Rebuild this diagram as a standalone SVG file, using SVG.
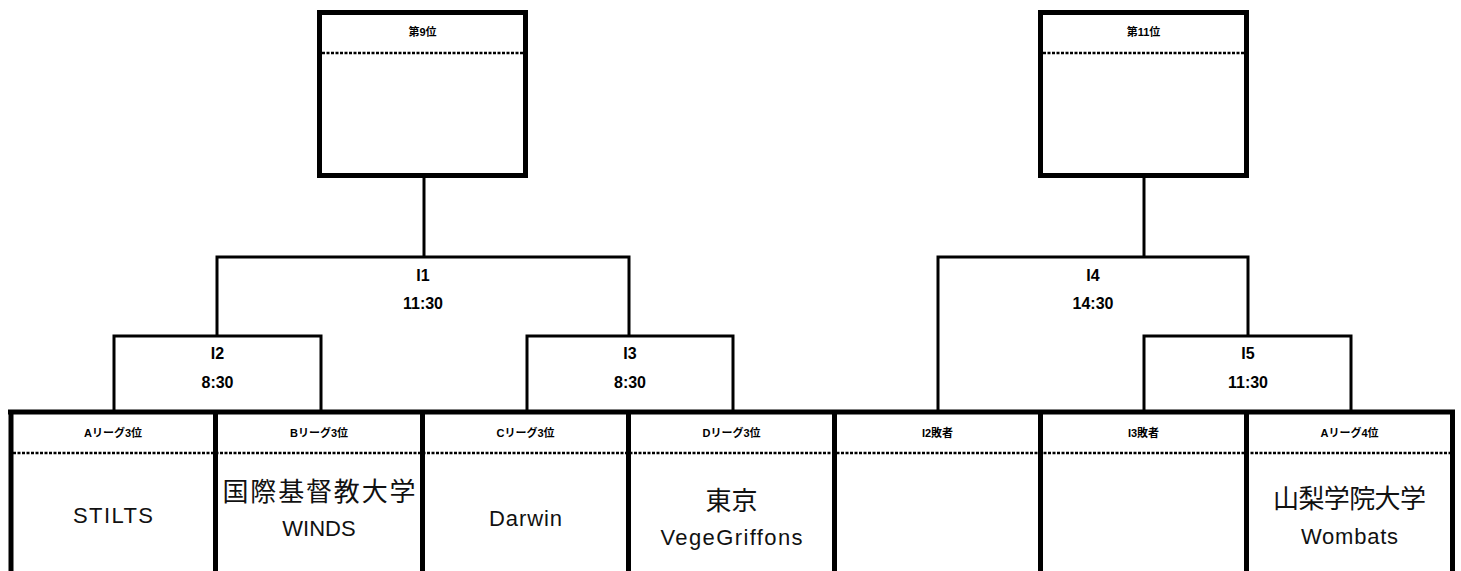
<svg xmlns="http://www.w3.org/2000/svg" width="1461" height="571" viewBox="0 0 1461 571">
<style>
.thick{fill:none;stroke:#000;stroke-width:5}
.conn{fill:none;stroke:#000;stroke-width:3}
.dot{fill:none;stroke:#000;stroke-width:2.5;stroke-dasharray:3 1.5}
.hdr{font-family:"Liberation Sans","Noto Sans CJK JP",sans-serif;font-weight:bold;font-size:11px;text-anchor:middle;fill:#000}
.mt{font-family:"Liberation Sans","Noto Sans CJK JP",sans-serif;font-weight:bold;font-size:16px;text-anchor:middle;fill:#000}
.team{font-family:"Liberation Sans","Noto Sans CJK JP",sans-serif;font-size:22px;text-anchor:middle;fill:#111}
.jp{font-family:"Noto Sans CJK JP",sans-serif;font-size:26px;text-anchor:middle;fill:#111}
</style>
<rect width="1461" height="571" fill="#fff"/>
<g id="connectors">
  <line class="conn" x1="424" y1="178" x2="424" y2="257"/>
  <polyline class="conn" points="217,336 217,257 629,257 629,336"/>
  <polyline class="conn" points="114,412 114,336 321,336 321,412"/>
  <polyline class="conn" points="527,412 527,336 733,336 733,412"/>
  <line class="conn" x1="1144" y1="178" x2="1144" y2="257"/>
  <polyline class="conn" points="938,412 938,257 1248,257 1248,336"/>
  <polyline class="conn" points="1144,412 1144,336 1351,336 1351,412"/>
</g>
<g id="rank9">
  <rect class="thick" x="319.5" y="12.5" width="206" height="163"/>
  <line class="dot" x1="322" y1="53" x2="523" y2="53"/>
  <text class="hdr" x="422.5" y="36">第9位</text>
</g>
<g id="rank11">
  <rect class="thick" x="1040.5" y="12.5" width="206" height="163"/>
  <line class="dot" x1="1043" y1="53" x2="1244" y2="53"/>
  <text class="hdr" x="1143.5" y="36">第11位</text>
</g>
<g id="I1">
  <text class="mt" x="423" y="281">I1</text>
  <text class="mt" x="423" y="309">11:30</text>
</g>
<g id="I2">
  <text class="mt" x="217.5" y="359">I2</text>
  <text class="mt" x="217.5" y="388">8:30</text>
</g>
<g id="I3">
  <text class="mt" x="630" y="359">I3</text>
  <text class="mt" x="630" y="388">8:30</text>
</g>
<g id="I4">
  <text class="mt" x="1093" y="281">I4</text>
  <text class="mt" x="1093" y="309">14:30</text>
</g>
<g id="I5">
  <text class="mt" x="1248" y="359">I5</text>
  <text class="mt" x="1248" y="388">11:30</text>
</g>
<g id="bottom-frame">
  <line class="thick" x1="8" y1="412" x2="1455" y2="412"/>
  <line class="dot" x1="13" y1="453" x2="1451" y2="453"/>
</g>
<g id="slotA3">
  <line class="thick" x1="11" y1="412" x2="11" y2="571"/>
  <text class="hdr" x="113" y="437">Aリーグ3位</text>
  <text class="team" x="113" y="523" textLength="80" lengthAdjust="spacing">STILTS</text>
</g>
<g id="slotB3">
  <line class="thick" x1="215.5" y1="412" x2="215.5" y2="571"/>
  <text class="hdr" x="319" y="437">Bリーグ3位</text>
  <text class="jp" x="319" y="501" textLength="193" lengthAdjust="spacing">国際基督教大学</text>
  <text class="team" x="319" y="536">WINDS</text>
</g>
<g id="slotC3">
  <line class="thick" x1="422.5" y1="412" x2="422.5" y2="571"/>
  <text class="hdr" x="525.5" y="437">Cリーグ3位</text>
  <text class="team" x="525.5" y="526" textLength="73" lengthAdjust="spacing">Darwin</text>
</g>
<g id="slotD3">
  <line class="thick" x1="628.5" y1="412" x2="628.5" y2="571"/>
  <text class="hdr" x="731.5" y="437">Dリーグ3位</text>
  <text class="jp" x="731.5" y="510">東京</text>
  <text class="team" x="731.5" y="545" textLength="142" lengthAdjust="spacing">VegeGriffons</text>
</g>
<g id="slotI2L">
  <line class="thick" x1="834.5" y1="412" x2="834.5" y2="571"/>
  <text class="hdr" x="937.5" y="437">I2敗者</text>
</g>
<g id="slotI3L">
  <line class="thick" x1="1040.5" y1="412" x2="1040.5" y2="571"/>
  <text class="hdr" x="1143.5" y="437">I3敗者</text>
</g>
<g id="slotA4">
  <line class="thick" x1="1246.5" y1="412" x2="1246.5" y2="571"/>
  <line class="thick" x1="1452.5" y1="412" x2="1452.5" y2="571"/>
  <text class="hdr" x="1349.5" y="437">Aリーグ4位</text>
  <text class="jp" x="1349.5" y="508" textLength="153" lengthAdjust="spacing">山梨学院大学</text>
  <text class="team" x="1349.5" y="544" textLength="97" lengthAdjust="spacing">Wombats</text>
</g>
</svg>
